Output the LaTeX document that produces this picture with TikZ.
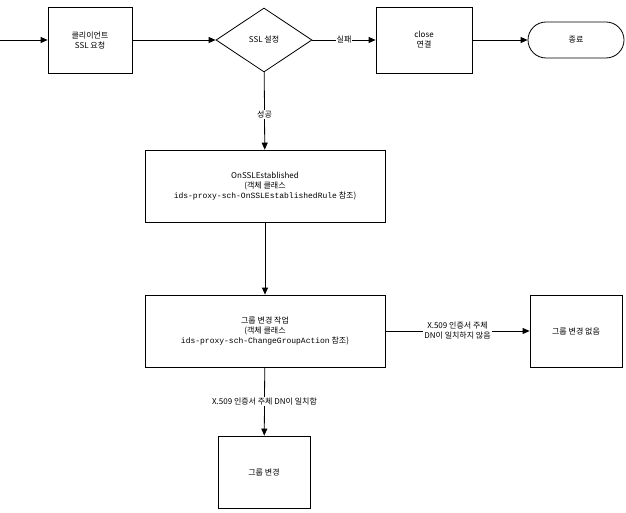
\documentclass[tikz,border=0pt]{standalone}
\usepackage{fontspec}
\setmainfont{Noto Sans CJK KR}
\newfontfamily\monof{Liberation Mono}
\usetikzlibrary{shapes.geometric,arrows.meta}
\begin{document}
\begin{tikzpicture}[x=1pt,y=-1pt,
  box/.style={draw,thick,fill=white,font=\fontsize{8}{10}\selectfont,align=center,inner sep=0},
  arr/.style={thick,-{Triangle[length=7pt,width=6pt]}},
  lab/.style={fill=white,font=\fontsize{8}{10}\selectfont,align=center,inner sep=1pt}]
\useasboundingbox (0,0) rectangle (626,513);
\node[box,minimum width=84,minimum height=66] (req) at (90,40) {클리이언트\\SSL 요청};
\node[box,diamond,aspect=1.5,minimum width=96,minimum height=64] (ssl) at (264,40) {SSL 설정};
\node[box,minimum width=96,minimum height=66] (close) at (424,40) {close\\연결};
\node[box,rounded corners=18,minimum width=96,minimum height=36] (end) at (576,40) {종료};
\node[box,minimum width=240,minimum height=72] (on) at (265,186) {OnSSLEstablished\\(객체 클래스\\{\monof ids-proxy-sch-OnSSLEstablishedRule} 참조)};
\node[box,minimum width=240,minimum height=72] (grp) at (265,331) {그룹 변경 작업\\(객체 클래스\\{\monof ids-proxy-sch-ChangeGroupAction} 참조)};
\node[box,minimum width=92,minimum height=72] (none) at (576,331) {그룹 변경 없음};
\node[box,minimum width=92,minimum height=72] (chg) at (264,472) {그룹 변경};
\coordinate (in) at (0,40);
\draw[arr] (in) -- (req);
\draw[arr] (req) -- (ssl);
\draw[arr] (ssl) -- node[lab]{실패} (close);
\draw[arr] (close) -- (end);
\draw[arr] (ssl) -- node[lab,pos=0.55]{성공} (on);
\draw[arr] (on) -- (grp);
\draw[arr] (grp) -- node[lab]{X.509 인증서 주체\\DN이 일치하지 않음} (none);
\draw[arr] (grp) -- node[lab,pos=0.5]{X.509 인증서 주체 DN이 일치함} (chg);
\end{tikzpicture}
\end{document}
